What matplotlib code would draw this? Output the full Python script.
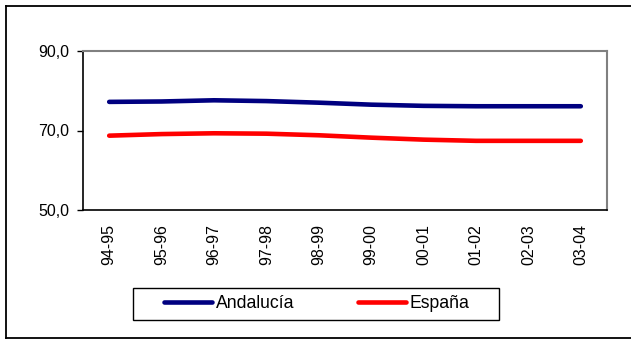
import matplotlib
matplotlib.use("Agg")
import matplotlib.pyplot as plt
from matplotlib.lines import Line2D
from matplotlib.patches import Rectangle

plt.rcParams["font.family"] = ["Liberation Sans", "DejaVu Sans"]

# data
cursos = ["94-95", "95-96", "96-97", "97-98", "98-99",
          "99-00", "00-01", "01-02", "02-03", "03-04"]
andalucia = [77.2, 77.3, 77.6, 77.4, 77.0, 76.5, 76.2, 76.1, 76.1, 76.1]
espana = [68.7, 69.1, 69.3, 69.2, 68.8, 68.2, 67.7, 67.4, 67.4, 67.4]
y_ticks = [50, 70, 90]

fig = plt.figure(figsize=(6.31, 3.40), dpi=100)
ax = fig.add_axes([83 / 631, 1 - 210 / 340, 524 / 631, 159 / 340])

x = range(len(cursos))
ax.plot(x, andalucia, color="#000080", lw=3.3, solid_capstyle="round", label="Andalucía")
ax.plot(x, espana, color="#FF0000", lw=3.3, solid_capstyle="round", label="España")

ax.set_xlim(-0.5, len(cursos) - 0.5)
ax.set_ylim(50, 90)
ax.set_yticks(y_ticks)
ax.set_yticklabels([f"{v:.1f}".replace(".", ",") for v in y_ticks])
ax.set_xticks(list(x))
ax.set_xticklabels(cursos, rotation=90)
ax.tick_params(axis="y", length=4, width=1, pad=6, labelsize=11.5)
ax.tick_params(axis="x", length=0, pad=10, labelsize=11.5)

for side in ["left", "bottom"]:
    ax.spines[side].set_color("black")
    ax.spines[side].set_linewidth(1.2)
for side in ["top", "right"]:
    ax.spines[side].set_color("#808080")
    ax.spines[side].set_linewidth(1.5)

# legend without its own frame, box drawn separately
fig.legend(loc="center", bbox_to_anchor=(316.5 / 631, 1 - 304 / 340), ncol=2,
           fontsize=12.7, frameon=False, handlelength=2.72, handletextpad=0.2,
           columnspacing=3.6, borderpad=0, borderaxespad=0)
fig.add_artist(Rectangle((133 / 631, 1 - 320 / 340), 366 / 631, 32 / 340,
                         transform=fig.transFigure, fill=False,
                         edgecolor="black", lw=1.0))

# outer chart border (right side runs off the image)
for xs, ys in [([6 / 631, 1.01], [1 - 6 / 340] * 2),
               ([6 / 631, 6 / 631], [1 - 6 / 340, 1 - 338 / 340]),
               ([6 / 631, 1.01], [1 - 338 / 340] * 2)]:
    fig.add_artist(Line2D(xs, ys, color="black", lw=1.3, transform=fig.transFigure))

plt.savefig("out.png", dpi=100)
